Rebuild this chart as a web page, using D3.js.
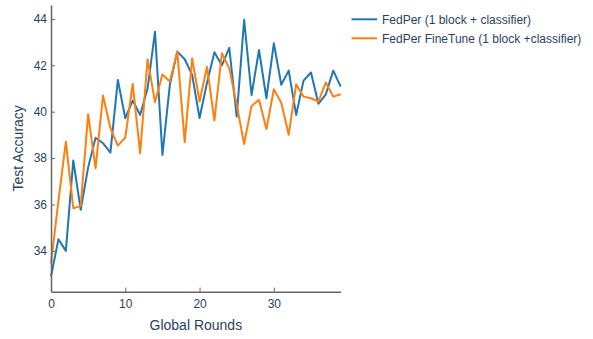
<!DOCTYPE html>
<html>
<head>
<meta charset="utf-8">
<script src="https://cdn.jsdelivr.net/npm/d3@7"></script>
<style>
  html, body { margin: 0; padding: 0; background: #fff; }
  svg { display: block; font-family: "Liberation Sans", Arial, sans-serif; }
</style>
</head>
<body>
<svg id="chart" width="593" height="339"></svg>
<script>
const rounds = d3.range(0, 40);
const fedPer = [32.9, 34.5, 34.0, 37.9, 35.77, 37.6, 38.88, 38.64, 38.24, 41.37,
                39.72, 40.48, 39.86, 41.0, 43.45, 38.14, 41.16, 42.59, 42.26, 41.59,
                39.73, 41.25, 42.56, 42.0, 42.75, 39.79, 43.96, 40.72, 42.66, 40.58,
                42.95, 41.16, 41.77, 39.86, 41.34, 41.69, 40.34, 40.75, 41.77, 41.08];
const fedPerFineTune = [33.47, 36.15, 38.71, 35.84, 35.94, 39.89, 37.56, 40.7, 39.29, 38.54,
                        38.88, 41.2, 38.21, 42.26, 40.41, 41.6, 41.3, 42.59, 38.69, 42.3,
                        40.44, 41.94, 39.62, 42.52, 41.87, 40.3, 38.61, 40.25, 40.51, 39.25,
                        40.97, 40.39, 39.0, 41.18, 40.65, 40.58, 40.44, 41.26, 40.65, 40.75];
const seriesNames = ["FedPer (1 block + classifier)", "FedPer FineTune (1 block +classifier)"];
const seriesColors = ["#1f77b4", "#ff7f0e"];
const xTicks = [0, 10, 20, 30];
const yTicks = [34, 36, 38, 40, 42, 44];

const svg = d3.select("#chart");
const mLeft = 51, mRight = 340.7, mTop = 5, mBottom = 291.7;
const x = d3.scaleLinear().domain([0, 39]).range([mLeft, mRight]);
const y = d3.scaleLinear().domain([32.24, 44.6]).range([mBottom, mTop]);
const textColor = "#2a3f5f";
const axisColor = "#666";

const line = d3.line().x((d, i) => x(rounds[i])).y(d => y(d));
[fedPer, fedPerFineTune].forEach((s, k) => {
  svg.append("path").datum(s)
    .attr("fill", "none")
    .attr("stroke", seriesColors[k])
    .attr("stroke-width", 2)
    .attr("stroke-linejoin", "round")
    .attr("d", line);
});

// x axis
const xAxis = svg.append("g").attr("transform", `translate(0,${mBottom})`)
  .call(d3.axisBottom(x).tickValues(xTicks).tickSizeInner(-4).tickSizeOuter(0).tickPadding(8));
// y axis
const yAxis = svg.append("g").attr("transform", `translate(${mLeft},0)`)
  .call(d3.axisLeft(y).tickValues(yTicks).tickSizeInner(-4).tickSizeOuter(0).tickPadding(4));

[xAxis, yAxis].forEach(g => {
  g.select(".domain").attr("stroke", axisColor).attr("stroke-width", 1.5);
  g.selectAll(".tick line").attr("stroke", axisColor).attr("stroke-width", 1);
  g.selectAll(".tick text").attr("fill", textColor).attr("font-size", 12)
    .attr("font-family", "'Liberation Sans', Arial, sans-serif");
});
xAxis.selectAll(".tick").filter(d => d === 0).select("line").remove();

// axis titles
svg.append("text").attr("x", (mLeft + mRight) / 2).attr("y", 330)
  .attr("text-anchor", "middle").attr("fill", textColor).attr("font-size", 14)
  .text("Global Rounds");
svg.append("text").attr("transform", `translate(23,${(mTop + mBottom) / 2}) rotate(-90)`)
  .attr("text-anchor", "middle").attr("fill", textColor).attr("font-size", 14)
  .text("Test Accuracy");

// legend
seriesNames.forEach((name, k) => {
  const ly = 19.3 + k * 19;
  svg.append("line").attr("x1", 351.5).attr("x2", 377).attr("y1", ly).attr("y2", ly)
    .attr("stroke", seriesColors[k]).attr("stroke-width", 2);
  svg.append("text").attr("x", 382).attr("y", ly + 4.3)
    .attr("fill", textColor).attr("font-size", 12).text(name);
});
</script>
</body>
</html>
